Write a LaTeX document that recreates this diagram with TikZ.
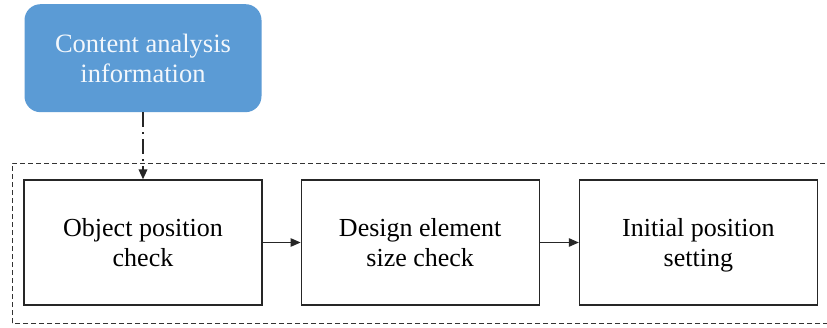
\documentclass[tikz,border=0pt]{standalone}
\usepackage{fontspec}
\setmainfont{Liberation Serif}
\usetikzlibrary{positioning,arrows.meta}
\definecolor{infoblue}{HTML}{5B9BD5}
\tikzset{
	stepbox/.style={draw=black!85,line width=1.2pt,fill=white,minimum width=238pt,minimum height=125pt,align=center,font=\fontsize{26}{30}\selectfont,inner sep=0pt,text depth=0pt},
	infobox/.style={fill=infoblue,rounded corners=16pt,minimum width=237pt,minimum height=108pt,align=center,text=white!92!infoblue,font=\fontsize{26.5}{30}\selectfont,inner sep=0pt},
	flow/.style={-{Triangle[length=10pt,width=8.5pt]},line width=1pt,black!85}
}
\begin{document}
\begin{tikzpicture}[x=1pt,y=1pt]
			\useasboundingbox (0,0) rectangle (827,327);
			\fill[white] (0,0) rectangle (827,327);
			\begin{scope}
				\clip (0,0) rectangle (827,327);
				% dashed frame round the three steps
				\draw[black!80,line width=0.9pt,dash pattern=on 5pt off 3pt] (12,4) rectangle (840,164);
			\end{scope}
			\node[stepbox] (objpos) at (143,84.5) {Object position\\check};
			\node[stepbox,right=38pt of objpos] (elemsize) {Design element\\size check};
			\node[stepbox,right=39pt of elemsize] (initpos) {Initial position\\setting};
			\node[infobox,above=67pt of objpos] (content) {Content analysis\\information};
			\draw[flow,line width=1.8pt,dash pattern=on 15pt off 5pt on 2pt off 5pt] (content) -- (objpos);
			\draw[flow] (objpos) -- (elemsize);
			\draw[flow] (elemsize) -- (initpos);
\end{tikzpicture}
\end{document}
